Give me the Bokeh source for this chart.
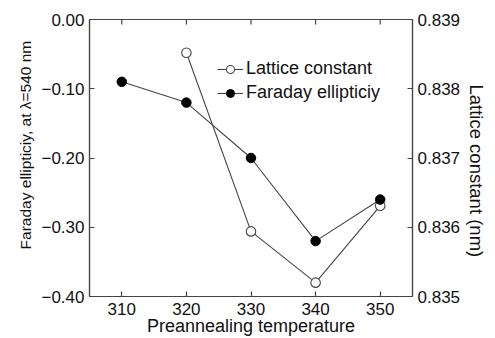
from bokeh.plotting import figure
from bokeh.models import Range1d, LinearAxis, FixedTicker, Legend, LegendItem
from bokeh.embed import file_html
from bokeh.resources import INLINE

# Data
temps_far = [310, 320, 330, 340, 350]
faraday = [-0.09, -0.12, -0.20, -0.32, -0.26]
temps_lat = [320, 330, 340, 350]
lattice = [0.83852, 0.83594, 0.83520, 0.83631]

x_ticks = [310, 320, 330, 340, 350]
left_ticks = [-0.40, -0.30, -0.20, -0.10, 0.00]
left_labels = ["\u22120.40", "\u22120.30", "\u22120.20", "\u22120.10", "0.00"]
right_ticks = [0.835, 0.836, 0.837, 0.838, 0.839]
right_labels = ["0.835", "0.836", "0.837", "0.838", "0.839"]

FONT = "Liberation Sans"
TXT = "#111111"
AX = "#444444"
FS = "17px"
NB = "\u00a0"

W, H = 495, 338
BL, BT, BR, BB = 89, 19, 83, 42
FH = H - BT - BB
YMIN, YMAX = -0.40, 0.0

p = figure(width=W, height=H,
           x_range=Range1d(305, 355), y_range=Range1d(YMIN, YMAX),
           output_backend="svg", toolbar_location=None,
           min_border_left=BL, min_border_right=BR, min_border_top=BT, min_border_bottom=BB)
p.extra_y_ranges = {"lat": Range1d(0.835, 0.839)}
p.grid.visible = False
p.outline_line_color = AX
p.outline_line_width = 1.2
p.background_fill_color = "white"
p.border_fill_color = "white"

def style(ax):
    ax.axis_line_color = AX
    ax.axis_line_width = 1.2
    ax.major_tick_line_color = AX
    ax.major_tick_line_width = 1.2
    ax.major_tick_in = 5
    ax.major_tick_out = 0
    ax.minor_tick_line_color = None
    ax.major_label_text_font = FONT
    ax.major_label_text_font_size = FS
    ax.major_label_text_color = TXT
    ax.axis_label_text_font = FONT
    ax.axis_label_text_font_size = FS
    ax.axis_label_text_font_style = "normal"
    ax.axis_label_text_color = TXT

xa = p.xaxis[0]
style(xa)
xa.ticker = FixedTicker(ticks=x_ticks)
xa.major_label_overrides = {t: str(t) for t in x_ticks}
xa.axis_label = "Preannealing temperature"
xa.axis_label_text_font_size = "18px"
xa.major_label_standoff = 6
xa.axis_label_standoff = -2

ya = p.yaxis[0]
style(ya)
ya.ticker = FixedTicker(ticks=left_ticks)
ya.major_label_overrides = dict(zip(left_ticks, left_labels))
ya.axis_label = NB * 6 + "Faraday ellipticiy, at \u03bb=540 nm"
ya.axis_label_text_font_size = "15.5px"
ya.major_label_standoff = 5
ya.axis_label_standoff = 4

ra = LinearAxis(y_range_name="lat")
style(ra)
ra.ticker = FixedTicker(ticks=right_ticks)
ra.major_label_overrides = dict(zip(right_ticks, right_labels))
ra.axis_label = NB * 5 + "Lattice constant (nm)"
ra.axis_label_text_font_size = "18.5px"
ra.major_label_standoff = 5
ra.axis_label_standoff = 3
p.add_layout(ra, "right")

# inward tick marks along the top edge
tick_len = 5 * (YMAX - YMIN) / FH
p.segment(x0=x_ticks, y0=[YMAX] * len(x_ticks), x1=x_ticks,
          y1=[YMAX - tick_len] * len(x_ticks), line_color=AX, line_width=1.2)

LC = "#444444"
l_lat = p.line(temps_lat, lattice, y_range_name="lat", line_color=LC, line_width=1.1)
c_lat = p.scatter(temps_lat, lattice, y_range_name="lat", size=9.5, marker="circle",
                  fill_color="white", line_color=LC, line_width=1.1)
l_far = p.line(temps_far, faraday, line_color=LC, line_width=1.1)
c_far = p.scatter(temps_far, faraday, size=9.5, marker="circle",
                  fill_color="black", line_color="black")

legend = Legend(items=[LegendItem(label="Lattice constant", renderers=[l_lat, c_lat]),
                       LegendItem(label="Faraday ellipticiy", renderers=[l_far, c_far])],
                location=(128, FH - 84))
legend.padding = 0
legend.margin = 0
legend.spacing = 3
legend.glyph_width = 26
legend.glyph_height = 20
legend.label_height = 20
legend.label_standoff = 3
legend.border_line_color = None
legend.background_fill_alpha = 0
legend.label_text_font = FONT
legend.label_text_font_size = "18px"
legend.label_text_color = TXT
p.add_layout(legend, "center")

open("out.html", "w").write(file_html(p, INLINE))
